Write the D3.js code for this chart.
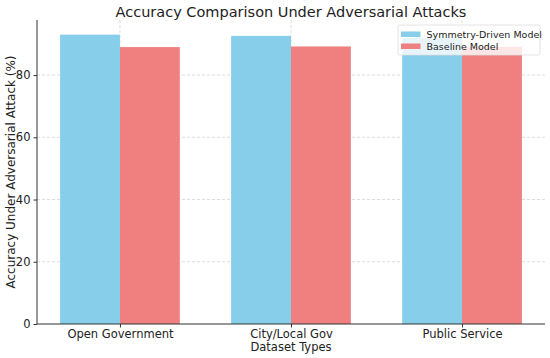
<!DOCTYPE html>
<html><head><meta charset="utf-8">
<script src="https://cdn.jsdelivr.net/npm/d3@7"></script>
<style>body{margin:0;background:#fff;} text{font-family:"DejaVu Sans",sans-serif;}</style>
</head><body>
<svg id="c" width="550" height="358"></svg>
<script>
const categories = ["Open Government", "City/Local Gov", "Public Service"];
const seriesNames = ["Symmetry-Driven Model", "Baseline Model"];
const symmetryValues = [93.0, 92.6, 92.0];
const baselineValues = [89.0, 89.2, 89.1];
const yTicks = [0, 20, 40, 60, 80];
const colors = ["#87CEEB", "#F08080"];

(function(){
const svg = d3.select("#c");
const mLeft = 37, mRight = 545, mTop = 20, mBottom = 324;
const barW = 0.35;
const x = d3.scaleLinear().domain([-0.485, 2.485]).range([mLeft, mRight]);
const y = d3.scaleLinear().domain([0, 97.7]).range([mBottom, mTop]);

// grid
const g = svg.append("g");
g.selectAll(".hg").data(yTicks.slice(1)).join("line")
  .attr("x1", mLeft).attr("x2", mRight).attr("y1", d => y(d)).attr("y2", d => y(d))
  .attr("stroke", "#d4d4d4").attr("stroke-width", 0.8).attr("stroke-dasharray", "3,2");
g.selectAll(".vg").data(categories.map((c,i)=>i)).join("line")
  .attr("x1", d => x(d)).attr("x2", d => x(d)).attr("y1", mTop).attr("y2", mBottom)
  .attr("stroke", "#d4d4d4").attr("stroke-width", 0.8).attr("stroke-dasharray", "3,2");

// bars
const series = [symmetryValues, baselineValues];
series.forEach((vals, s) => {
  svg.append("g").selectAll("rect").data(vals).join("rect")
    .attr("x", (d, i) => x(i + (s === 0 ? -barW : 0)))
    .attr("width", x(barW) - x(0))
    .attr("y", d => y(d))
    .attr("height", d => y(0) - y(d))
    .attr("fill", colors[s]);
});

// axes
const yAxis = d3.axisLeft(y).tickValues(yTicks).tickSize(3.5).tickPadding(3);
const ya = svg.append("g").attr("transform", `translate(${mLeft},0)`).call(yAxis);
const xAxis = d3.axisBottom(x).tickValues([0,1,2]).tickFormat(i => categories[i]).tickSize(3.5).tickPadding(2);
const xa = svg.append("g").attr("transform", `translate(0,${mBottom})`).call(xAxis);
[ya, xa].forEach(a => {
  a.selectAll("text").attr("font-size", 11.5).attr("fill", "#222").style("font-family", "DejaVu Sans");
  a.selectAll("line").attr("stroke", "#333");
  a.select(".domain").attr("stroke", "#333").attr("stroke-width", 1);
});
ya.select(".domain").attr("d", `M0,${mBottom}V${mTop}`);
xa.select(".domain").attr("d", `M${mLeft},0H${mRight}`);

// labels
svg.append("text").attr("x", 291).attr("y", 17).attr("text-anchor", "middle")
  .attr("font-size", 14.5).attr("fill", "#222").text("Accuracy Comparison Under Adversarial Attacks");
svg.append("text").attr("x", 291).attr("y", 351).attr("text-anchor", "middle")
  .attr("font-size", 11.5).attr("fill", "#222").text("Dataset Types");
svg.append("text").attr("transform", `translate(15,${(mTop+mBottom)/2}) rotate(-90)`).attr("text-anchor", "middle")
  .attr("font-size", 12).attr("fill", "#222").text("Accuracy Under Adversarial Attack (%)");

// legend
const lg = svg.append("g").attr("transform", "translate(398,25)");
lg.append("rect").attr("width", 142).attr("height", 30).attr("rx", 2)
  .attr("fill", "rgba(255,255,255,0.8)").attr("stroke", "#ddd").attr("stroke-width", 0.8);
seriesNames.forEach((n, i) => {
  lg.append("rect").attr("x", 3).attr("y", 6.5 + i * 12).attr("width", 19.5).attr("height", 5.5).attr("fill", colors[i]);
  lg.append("text").attr("x", 28.5).attr("y", 13 + i * 12.3).attr("font-size", 9.5).attr("fill", "#222").text(n);
});
})();
</script>
</body></html>
